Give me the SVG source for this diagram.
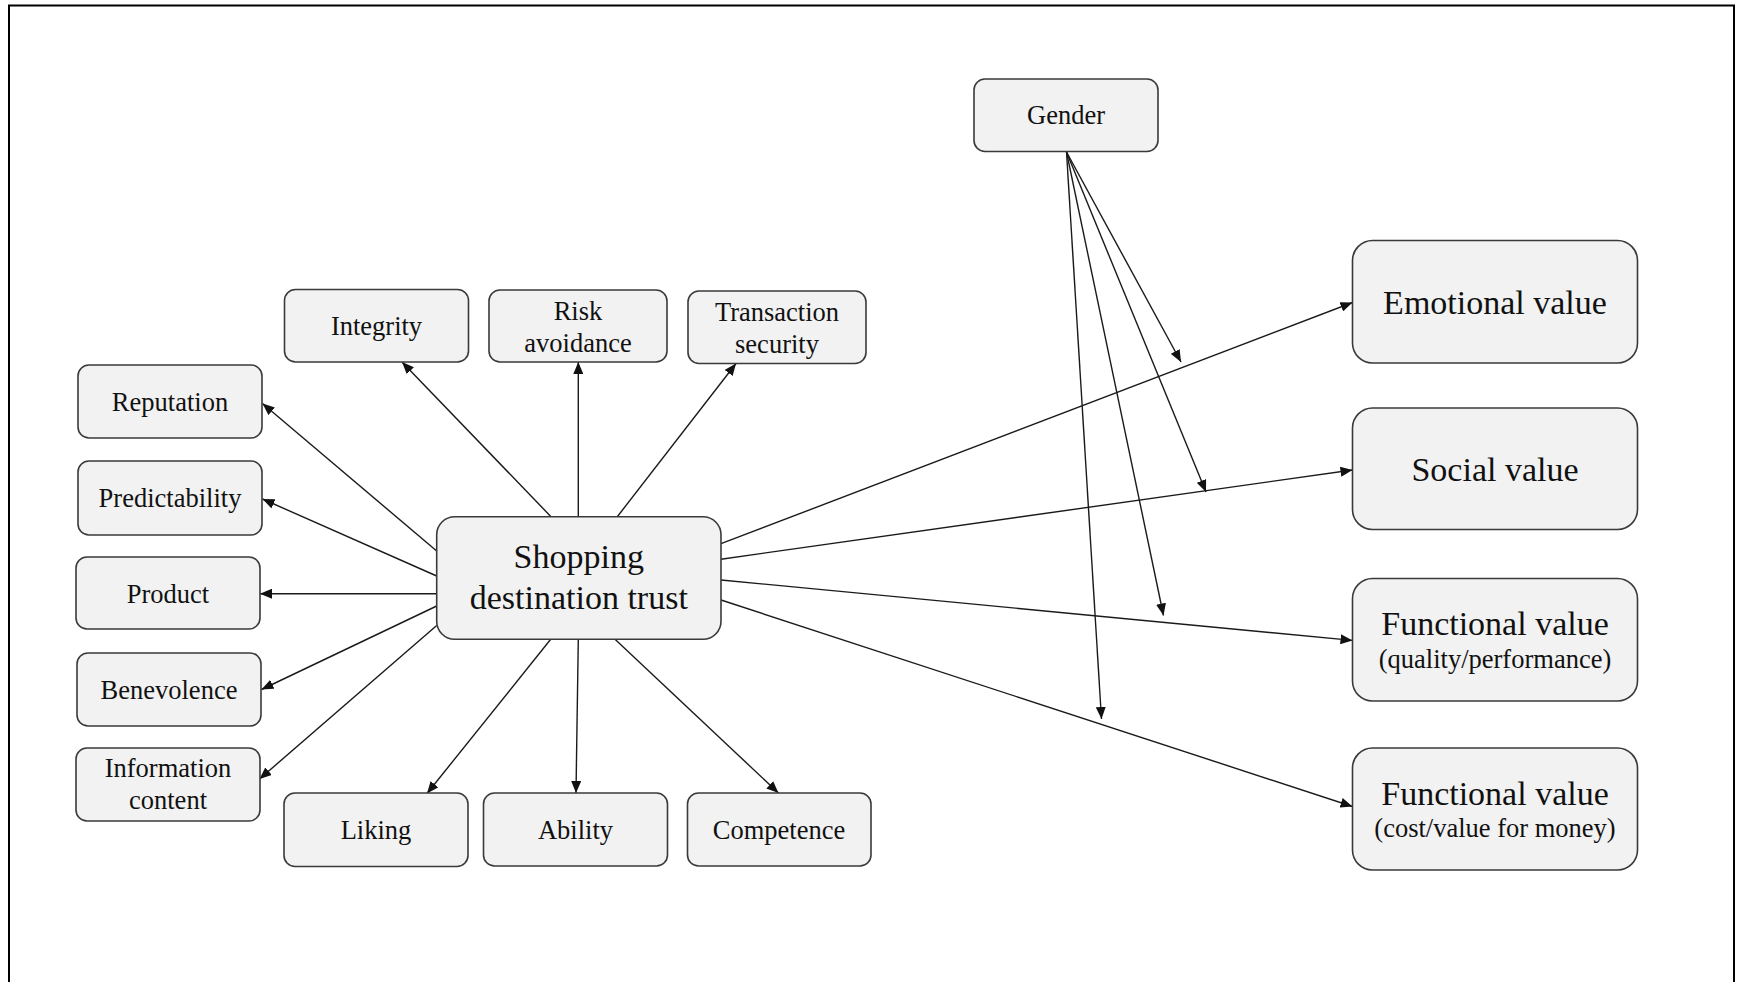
<svg xmlns="http://www.w3.org/2000/svg" width="1737" height="982" viewBox="0 0 1737 982">
  <style>
    .box { fill: #f2f2f2; stroke: #3a3a3a; stroke-width: 1.6; }
    .lbl { font-family: "Liberation Serif", "Times New Roman", serif; font-size: 26.5px; fill: #111; text-anchor: middle; }
    .big { font-size: 34px; }
    .edge { stroke: #1a1a1a; stroke-width: 1.4; fill: none; marker-end: url(#arrow); }
  </style>
  <defs>
    <marker id="arrow" markerWidth="12" markerHeight="10" refX="12" refY="5" orient="auto" markerUnits="userSpaceOnUse">
      <path d="M0,0 L12,5 L0,10 z" fill="#111"/>
    </marker>
  </defs>

  <rect x="0" y="0" width="1737" height="982" fill="#ffffff"/>
  <!-- outer frame -->
  <rect x="9" y="5.5" width="1725" height="995" fill="none" stroke="#000" stroke-width="2"/>

  <!-- connectors -->
  <g id="connectors">
    <!-- trust to left column -->
    <line class="edge" x1="436.7" y1="551" x2="262.5" y2="403.5"/>
    <line class="edge" x1="436.7" y1="576" x2="262.5" y2="499"/>
    <line class="edge" x1="436.7" y1="593.7" x2="260" y2="593.7"/>
    <line class="edge" x1="436.7" y1="606" x2="261.5" y2="689.5"/>
    <line class="edge" x1="436.7" y1="625.5" x2="259.5" y2="779"/>
    <!-- trust to top row -->
    <line class="edge" x1="551" y1="516.7" x2="402" y2="362"/>
    <line class="edge" x1="578.3" y1="516.7" x2="578.3" y2="362"/>
    <line class="edge" x1="617.3" y1="516.7" x2="736" y2="363.5"/>
    <!-- trust to bottom row -->
    <line class="edge" x1="550.7" y1="639.3" x2="427" y2="793.5"/>
    <line class="edge" x1="578.3" y1="639.3" x2="576" y2="793"/>
    <line class="edge" x1="615" y1="639.3" x2="778.5" y2="793"/>
    <!-- trust to value dimensions -->
    <line class="edge" x1="721" y1="543.7" x2="1352.5" y2="302.5"/>
    <line class="edge" x1="721" y1="559.2" x2="1352.5" y2="470"/>
    <line class="edge" x1="721" y1="580" x2="1352.5" y2="640.4"/>
    <line class="edge" x1="721" y1="600" x2="1352.5" y2="806.5"/>
    <!-- gender moderation -->
    <line class="edge" x1="1066.5" y1="152" x2="1181" y2="362"/>
    <line class="edge" x1="1066.5" y1="152" x2="1206" y2="492"/>
    <line class="edge" x1="1066.5" y1="152" x2="1163.5" y2="615.5"/>
    <line class="edge" x1="1066.5" y1="152" x2="1101.5" y2="719"/>
  </g>

  <g id="reputation">
    <rect class="box" x="78" y="365" width="184" height="73" rx="11"/>
    <text class="lbl" x="170" y="411">Reputation</text>
  </g>
  <g id="predictability">
    <rect class="box" x="78" y="461" width="184" height="74" rx="11"/>
    <text class="lbl" x="170" y="507">Predictability</text>
  </g>
  <g id="product">
    <rect class="box" x="76" y="557" width="184" height="72" rx="11"/>
    <text class="lbl" x="168" y="602.5">Product</text>
  </g>
  <g id="benevolence">
    <rect class="box" x="77" y="653" width="184" height="73" rx="11"/>
    <text class="lbl" x="169" y="698.5">Benevolence</text>
  </g>
  <g id="information-content">
    <rect class="box" x="76" y="748" width="184" height="73" rx="11"/>
    <text class="lbl" x="168" y="777">Information</text>
    <text class="lbl" x="168" y="809">content</text>
  </g>
  <g id="integrity">
    <rect class="box" x="284.5" y="289.5" width="184" height="72.5" rx="11"/>
    <text class="lbl" x="376.5" y="334.5">Integrity</text>
  </g>
  <g id="risk-avoidance">
    <rect class="box" x="489" y="290" width="178" height="72" rx="11"/>
    <text class="lbl" x="578" y="319.5">Risk</text>
    <text class="lbl" x="578" y="351.5">avoidance</text>
  </g>
  <g id="transaction-security">
    <rect class="box" x="688" y="291" width="178" height="72.5" rx="11"/>
    <text class="lbl" x="777" y="321">Transaction</text>
    <text class="lbl" x="777" y="353">security</text>
  </g>
  <g id="liking">
    <rect class="box" x="284" y="793" width="184" height="73.5" rx="11"/>
    <text class="lbl" x="376" y="839">Liking</text>
  </g>
  <g id="ability">
    <rect class="box" x="483.5" y="793" width="184" height="73" rx="11"/>
    <text class="lbl" x="575.5" y="838.5">Ability</text>
  </g>
  <g id="competence">
    <rect class="box" x="687.5" y="793" width="183.5" height="73" rx="11"/>
    <text class="lbl" x="779" y="838.5">Competence</text>
  </g>
  <g id="shopping-destination-trust">
    <rect class="box" x="436.7" y="516.7" width="284.3" height="122.6" rx="18"/>
    <text class="lbl big" x="578.8" y="568">Shopping</text>
    <text class="lbl big" x="578.8" y="609">destination trust</text>
  </g>
  <g id="gender">
    <rect class="box" x="974" y="79" width="184" height="72.5" rx="11"/>
    <text class="lbl" x="1066" y="124">Gender</text>
  </g>
  <g id="emotional-value">
    <rect class="box" x="1352.5" y="240.5" width="285" height="122.5" rx="20"/>
    <text class="lbl big" x="1495" y="313.5">Emotional value</text>
  </g>
  <g id="social-value">
    <rect class="box" x="1352.5" y="408" width="285" height="121.5" rx="20"/>
    <text class="lbl big" x="1495" y="481">Social value</text>
  </g>
  <g id="functional-value-quality">
    <rect class="box" x="1352.5" y="578.5" width="285" height="122.5" rx="20"/>
    <text class="lbl big" x="1495" y="635">Functional value</text>
    <text class="lbl" x="1495" y="667.5">(quality/performance)</text>
  </g>
  <g id="functional-value-cost">
    <rect class="box" x="1352.5" y="748" width="285" height="122" rx="20"/>
    <text class="lbl big" x="1495" y="804.5">Functional value</text>
    <text class="lbl" x="1495" y="837">(cost/value for money)</text>
  </g>
</svg>
